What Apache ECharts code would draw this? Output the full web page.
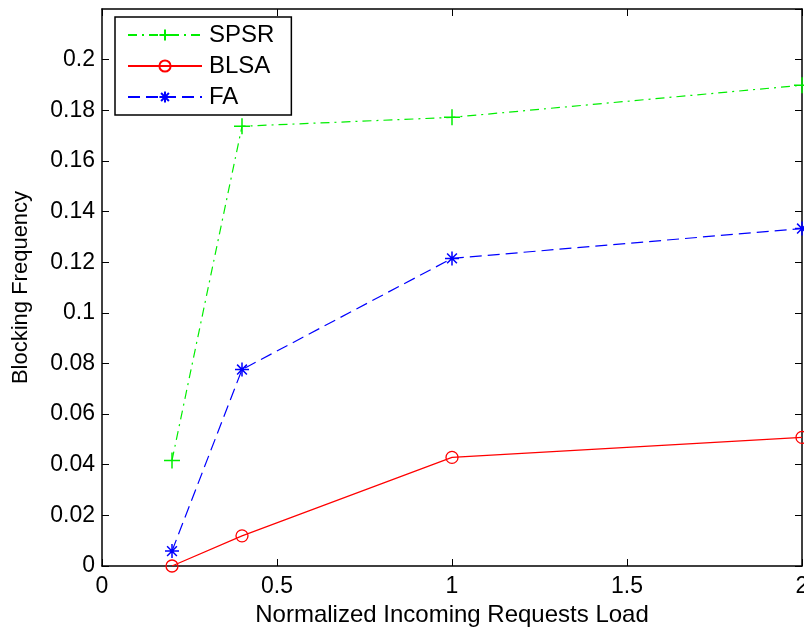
<!DOCTYPE html>
<html><head><meta charset="utf-8">
<script src="https://cdn.jsdelivr.net/npm/echarts@6/dist/echarts.min.js"></script>
<style>html,body{margin:0;padding:0;background:#fff}#c{width:804px;height:627px}</style>
</head><body><div id="c"></div>
<script>
const loads = [0.2, 0.4, 1, 2];
const spsr = [0.0417, 0.1737, 0.1772, 0.1899];
const blsa = [0.0, 0.0119, 0.0429, 0.0508];
const fa = [0.0059, 0.0776, 0.1215, 0.1333];
const seriesNames = ['SPSR', 'BLSA', 'FA'];

const plusPath = 'path://M0,-10L0,10M-10,0L10,0';
const starPath = 'path://M0,-10L0,10M-10,0L10,0M-7,-7L7,7M-7,7L7,-7';
const font = 'Liberation Sans, Arial, sans-serif';

function pairs(v){ return loads.map((x,i)=>[x,v[i]]); }

const chart = echarts.init(document.getElementById('c'), null, {renderer:'canvas'});
const tickStyle = {show:true, inside:true, length:7, lineStyle:{color:'#000', width:1}};
const lineStyleAx = {show:true, onZero:false, lineStyle:{color:'#000', width:1.5}};
chart.setOption({
  animation:false,
  backgroundColor:'#fff',
  grid:{left:102, top:9, right:2, bottom:61, containLabel:false, outerBoundsMode:'none'},
  legend:{
    left:115, top:17, orient:'vertical',
    data:seriesNames,
    backgroundColor:'#fff', borderColor:'#000', borderWidth:1.5, borderRadius:0,
    padding:[6,17,6,12], itemGap:7, itemWidth:74, itemHeight:14,
    textStyle:{fontFamily:font, fontSize:24, color:'#000', padding:[0,0,0,2]}
  },
  xAxis:[{
    type:'value', min:0, max:2, interval:0.5,
    name:'Normalized Incoming Requests Load', nameLocation:'middle', nameGap:31,
    nameTextStyle:{fontFamily:font, fontSize:24, color:'#000'},
    axisLine:lineStyleAx,
    axisTick:tickStyle,
    axisLabel:{fontFamily:font, fontSize:23, color:'#000', margin:9,
      formatter:v=>String(v)},
    splitLine:{show:false}
  },{
    type:'value', min:0, max:2, interval:0.5, position:'top',
    axisLine:lineStyleAx,
    axisTick:tickStyle, axisLabel:{show:false}, splitLine:{show:false}
  }],
  yAxis:[{
    type:'value', min:0, max:0.22, interval:0.02,
    name:'Blocking Frequency', nameLocation:'middle', nameGap:70,
    nameTextStyle:{fontFamily:font, fontSize:22, color:'#000'},
    axisLine:lineStyleAx,
    axisTick:tickStyle,
    axisLabel:{fontFamily:font, fontSize:23, color:'#000', margin:7, showMaxLabel:false,
      formatter:v=> (Math.abs(v-0.22)<1e-9 ? '' : String(+v.toFixed(2)))},
    splitLine:{show:false}
  },{
    type:'value', min:0, max:0.22, interval:0.02, position:'right',
    axisLine:lineStyleAx,
    axisTick:tickStyle, axisLabel:{show:false}, splitLine:{show:false}
  }],
  series:[
    {name:'SPSR', type:'line', data:pairs(spsr), symbol:plusPath, symbolSize:16,
     itemStyle:{color:'#00ee00', borderColor:'#00ee00', borderWidth:1.5},
     lineStyle:{color:'#00ee00', width:1.2, type:[9,5,2,5]}, z:3},
    {name:'BLSA', type:'line', data:pairs(blsa), symbol:'circle', symbolSize:12,
     itemStyle:{color:'rgba(255,255,255,0)', borderColor:'#ff0000', borderWidth:1.3},
     lineStyle:{color:'#ff0000', width:1.2, type:'solid'}, z:3},
    {name:'FA', type:'line', data:pairs(fa), symbol:starPath, symbolSize:14,
     itemStyle:{color:'#0000ff', borderColor:'#0000ff', borderWidth:1.5},
     lineStyle:{color:'#0000ff', width:1.2, type:[12,6]}, z:3}
  ]
});
</script></body></html>
